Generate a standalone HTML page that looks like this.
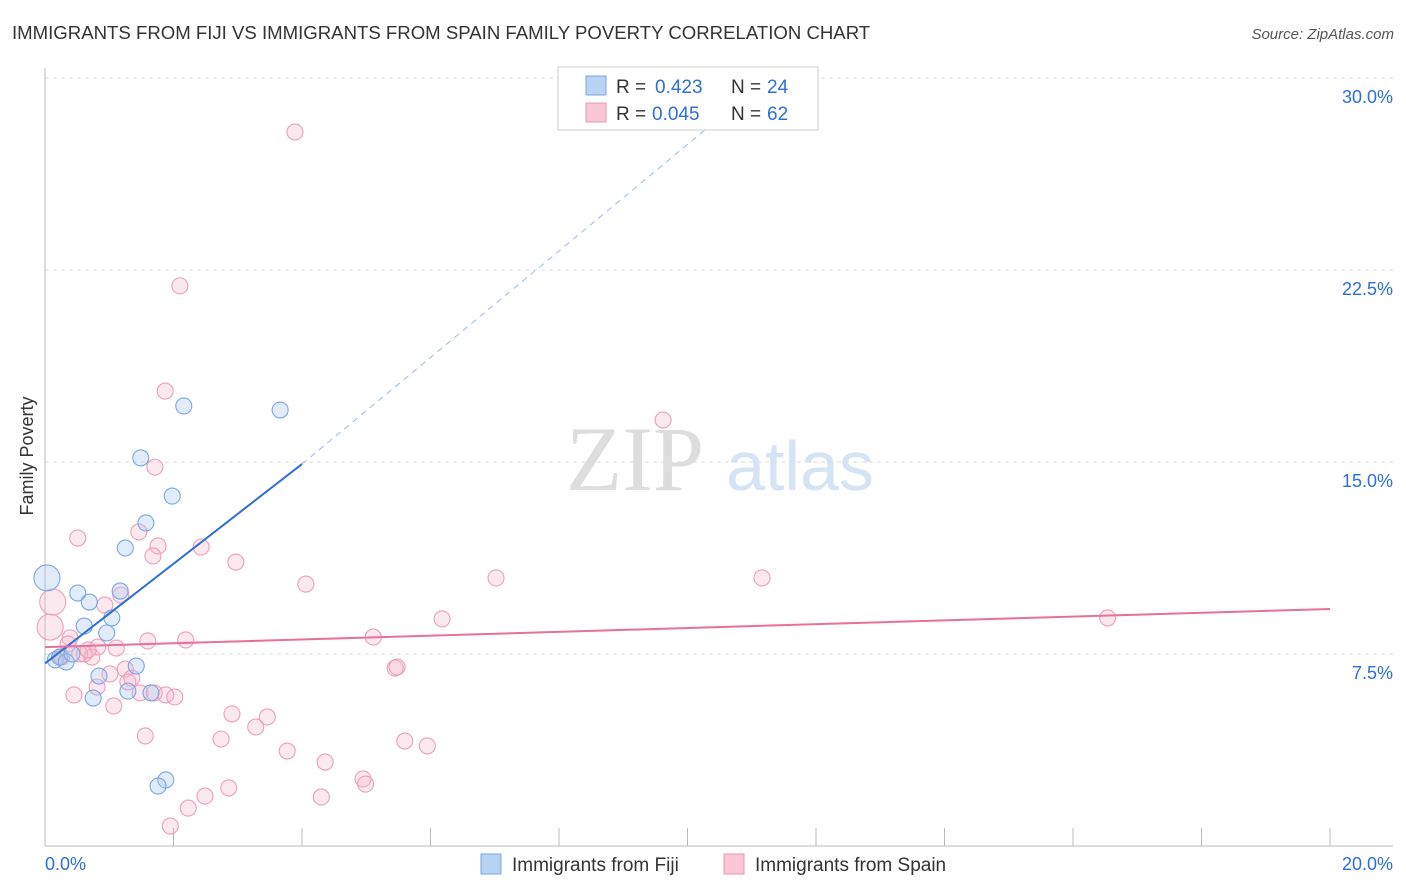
<!DOCTYPE html>
<html><head><meta charset="utf-8">
<style>
body{margin:0;background:#fff;font-family:"Liberation Sans",sans-serif;}
#wrap{position:relative;width:1406px;height:892px;overflow:hidden;}
</style></head>
<body>
<div id="wrap">
<svg id="chart" width="1406" height="892" xmlns="http://www.w3.org/2000/svg">
<text x="12" y="39" font-size="18.6" fill="#333">IMMIGRANTS FROM FIJI VS IMMIGRANTS FROM SPAIN FAMILY POVERTY CORRELATION CHART</text>
<text x="1394" y="39" font-size="15" fill="#555" text-anchor="end" font-style="italic">Source: ZipAtlas.com</text>
<text x="33" y="456" font-size="18" fill="#333" text-anchor="middle" transform="rotate(-90 33 456)">Family Poverty</text>
<g>
<text x="635" y="490" font-size="92" fill="#ddd" text-anchor="middle" font-family="Liberation Serif,serif">ZIP</text>
<text x="800" y="490" font-size="70" fill="#d5e3f5" text-anchor="middle">atlas</text>
</g>
<g id="grid"></g>
<g id="axes"></g>
<g id="pts"></g>
<g id="trend"></g>
<g>
<rect x="558" y="67" width="260" height="63" fill="#fff" stroke="#ccc"/>
<rect x="586" y="76" width="20" height="19" fill="#b9d3f4" stroke="#7aa6e0"/>
<text x="616" y="93" font-size="19" fill="#333">R =</text>
<text x="655" y="93" font-size="19" fill="#2d6fd6">0.423</text>
<text x="731" y="93" font-size="19" fill="#333">N =</text>
<text x="767" y="93" font-size="19" fill="#2d6fd6">24</text>
<rect x="586" y="103" width="20" height="19" fill="#f9c6d6" stroke="#ec97b2"/>
<text x="616" y="120" font-size="19" fill="#333">R =</text>
<text x="652" y="120" font-size="19" fill="#2d6fd6">0.045</text>
<text x="731" y="120" font-size="19" fill="#333">N =</text>
<text x="767" y="120" font-size="19" fill="#2d6fd6">62</text>
</g>
<g>
<rect x="481" y="854" width="20" height="20" fill="#b9d3f4" stroke="#7aa6e0"/>
<text x="512" y="871" font-size="19" fill="#333">Immigrants from Fiji</text>
<rect x="724" y="854" width="20" height="20" fill="#f9c6d6" stroke="#ec97b2"/>
<text x="755" y="871" font-size="19" fill="#333">Immigrants from Spain</text>
</g>
</svg>
</div>
<script>
const yTicks=[7.5,15,22.5,30];
const yTickLabels=["7.5%","15.0%","22.5%","30.0%"];
const xTickVals=[0,2,4,6,8,10,12,14,16,18,20];
const xEndLabels=["0.0%","20.0%"];
const fijiX=[0.03,0.51,0.69,0.61,1.04,0.96,0.16,0.23,0.33,0.42,0.84,1.42,1.29,1.65,0.75,1.25,1.57,1.49,1.98,2.16,3.66,1.88,1.76,1.17];
const fijiY=[10.47,9.88,9.53,8.59,8.91,8.32,7.27,7.38,7.19,7.5,6.64,7.03,6.05,5.98,5.78,11.64,12.62,15.16,13.67,17.19,17.03,2.58,2.34,9.96];
const fijiR=[13,8,8,8,8,8,8,8,8,8,8,8,8,8,8,8,8,8,8,8,8,8,8,8];
const spainX=[3.89,2.1,1.87,9.62,1.71,0.51,1.46,1.76,2.43,1.68,2.97,4.06,7.02,11.16,16.54,6.18,0.12,0.08,0.93,1.18,0.39,0.36,1.6,2.19,5.11,0.82,1.11,0.61,0.73,0.23,1.25,1.01,1.35,1.29,0.81,5.45,5.48,1.48,1.88,2.02,0.45,1.07,2.91,3.46,3.28,1.56,2.74,3.77,5.6,5.95,4.36,4.95,4.99,2.86,2.49,4.3,2.23,1.95,0.54,0.26,0.67,1.7];
const spainY=[27.89,21.88,17.77,16.64,14.8,12.03,12.27,11.72,11.68,11.33,11.09,10.23,10.47,10.47,8.91,8.87,9.53,8.55,9.41,9.8,8.13,7.89,8.01,8.05,8.16,7.77,7.73,7.5,7.38,7.38,6.91,6.72,6.56,6.41,6.21,6.95,6.99,5.98,5.9,5.82,5.9,5.47,5.16,5.04,4.65,4.3,4.18,3.71,4.1,3.91,3.28,2.62,2.42,2.27,1.95,1.91,1.48,0.78,7.5,7.38,7.66,5.98];
const spainR=[8,8,8,8,8,8,8,8,8,8,8,8,8,8,8,8,13,13,8,8,8,8,8,8,8,8,8,8,8,8,8,8,8,8,8,8,8,8,8,8,8,8,8,8,8,8,8,8,8,8,8,8,8,8,8,8,8,8,8,8,8,8];
const fijiTrend=[[0,7.13],[4.0,14.92],[10.67,28.8]];
const spainTrend=[[0,7.77],[20,9.26]];

const X0=45,X1=1330,YB=846;
const xs=v=>X0+(v/20)*(X1-X0);
const ys=v=>YB-v/7.5*192;
const NS="http://www.w3.org/2000/svg";
function mk(tag,attrs,parent){const e=document.createElementNS(NS,tag);for(const k in attrs)e.setAttribute(k,attrs[k]);parent.appendChild(e);return e;}
const grid=document.getElementById('grid'),axes=document.getElementById('axes'),pts=document.getElementById('pts'),trend=document.getElementById('trend');
yTicks.forEach((t,i)=>{
  const l=mk('line',{x1:X0,x2:1393,y1:ys(t),y2:ys(t),stroke:'#ddd','stroke-dasharray':'4,4'},grid);
  
  
  const tx=mk('text',{x:1393,y:ys(t)+25,'font-size':18,fill:'#2d6fd6','text-anchor':'end'},axes);
  tx.textContent=yTickLabels[i];
  
  
});
const ax=mk('line',{x1:X0,x2:X0,y1:68,y2:YB,stroke:'#bbb'},axes);


const bx=mk('line',{x1:X0,x2:1393,y1:YB,y2:YB,stroke:'#bbb'},axes);


xTickVals.forEach(v=>{
  const t=mk('line',{x1:xs(v),x2:xs(v),y1:828,y2:YB,stroke:'#bbb'},axes);
  
  
});
[[0,'start',X0],[1,'end',1393]].forEach(([i,a,x])=>{
  const t=mk('text',{x:x,y:870,'font-size':18,fill:'#2d6fd6','text-anchor':a},axes);
  t.textContent=xEndLabels[i];
  
  
});
spainX.forEach((x,i)=>{
  const c=mk('circle',{cx:xs(x),cy:ys(spainY[i]),r:spainR[i],fill:'rgba(246,180,202,0.3)',stroke:'#eda0b8','stroke-width':1.1},pts);
  
  
});
fijiX.forEach((x,i)=>{
  const c=mk('circle',{cx:xs(x),cy:ys(fijiY[i]),r:fijiR[i],fill:'rgba(168,199,240,0.35)',stroke:'#7ba7e0','stroke-width':1.1},pts);
  
  
});
const f1=mk('line',{x1:xs(fijiTrend[0][0]),y1:ys(fijiTrend[0][1]),x2:xs(fijiTrend[1][0]),y2:ys(fijiTrend[1][1]),stroke:'#2d6fd6','stroke-width':2},trend);


const f2=mk('line',{x1:xs(fijiTrend[1][0]),y1:ys(fijiTrend[1][1]),x2:xs(fijiTrend[2][0]),y2:ys(fijiTrend[2][1]),stroke:'#9bbbe8','stroke-width':1,'stroke-dasharray':'6,5'},trend);


const s1=mk('line',{x1:xs(spainTrend[0][0]),y1:ys(spainTrend[0][1]),x2:xs(spainTrend[1][0]),y2:ys(spainTrend[1][1]),stroke:'#e8709a','stroke-width':2},trend);


</script>
</body></html>
